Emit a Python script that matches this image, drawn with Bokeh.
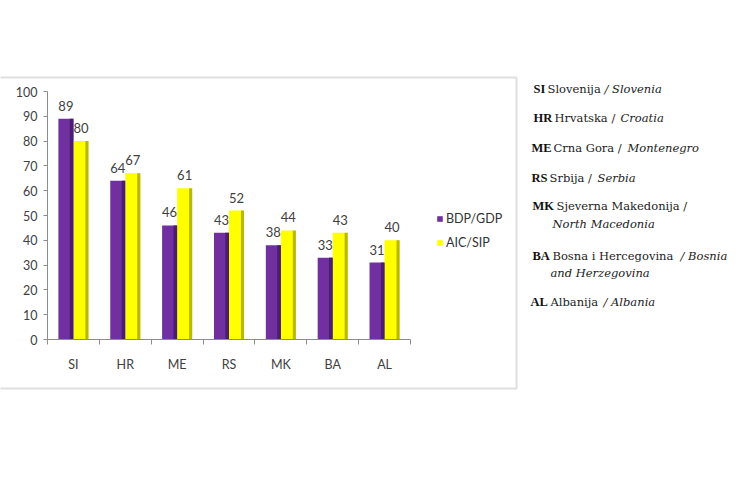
from bokeh.plotting import figure
from bokeh.models import (ColumnDataSource, Range1d, LabelSet, Label, BoxAnnotation,
                          Legend, LegendItem, FixedTicker)
from bokeh.core.properties import value
from bokeh.transform import dodge
from bokeh.embed import file_html
from bokeh.resources import INLINE

# ---- data ----
countries = ["SI", "HR", "ME", "RS", "MK", "BA", "AL"]
bdp_gdp = [89, 64, 46, 43, 38, 33, 31]
aic_sip = [80, 67, 61, 52, 44, 43, 40]
series_names = ["BDP/GDP", "AIC/SIP"]
y_ticks = [0, 10, 20, 30, 40, 50, 60, 70, 80, 90, 100]

key_lines = [
    [("SI", "bold"), ("Slovenija", "normal"), ("/ Slovenia", "italic")],
    [("HR", "bold"), ("Hrvatska /", "normal"), ("Croatia", "italic")],
    [("ME", "bold"), ("Crna Gora /", "normal"), ("Montenegro", "italic")],
    [("RS", "bold"), ("Srbija /", "normal"), ("Serbia", "italic")],
    [("MK", "bold"), ("Sjeverna Makedonija /", "normal")],
    [("North Macedonia", "italic")],
    [("BA", "bold"), ("Bosna i Hercegovina", "normal"), ("/ Bosnia", "italic")],
    [("and Herzegovina", "italic")],
    [("AL", "bold"), ("Albanija", "normal"), ("/ Albania", "italic")],
]
# key layout (page pixel positions)
key_y = [88, 117, 147, 177, 205, 223, 255, 272, 301]
key_x = [
    [533, 547, 604],
    [533, 554, 620],
    [531, 553, 627],
    [531, 549, 597],
    [532, 556],
    [552],
    [532, 552, 680],
    [550],
    [530, 550, 603],
]

W, H = 750, 500
FL, FR, FT, FB = 47, 410, 91, 339      # plot area of the chart (page px)
n = len(countries)
ux = (FR - FL) / n                       # px per category
uy = (FB - FT) / 100.0                   # px per value unit

xs = [i + 0.5 for i in range(n)]
src = ColumnDataSource(dict(x=xs, bdp=bdp_gdp, aic=aic_sip,
                            bdp_t=[str(v) for v in bdp_gdp],
                            aic_t=[str(v) for v in aic_sip]))

p = figure(x_range=Range1d(-FL / ux, (W - FL) / ux),
           y_range=Range1d(-(H - FB) / uy, 100 + FT / uy),
           width=W, height=H, output_backend="svg", toolbar_location=None,
           min_border=0)

bw = 0.29
purple, purple_d = "#7030A0", "#4a1c72"
yellow, yellow_d = "#FFFF00", "#a8a800"
r1 = p.vbar(x=dodge("x", -bw / 2), top="bdp", width=bw, source=src,
            fill_color=purple, line_color=None)
r2 = p.vbar(x=dodge("x", bw / 2), top="aic", width=bw, source=src,
            fill_color=yellow, line_color=None)
# darker right edges (shading)
p.vbar(x=dodge("x", -0.035), top="bdp", width=0.07, source=src,
       fill_color=purple_d, line_color=None)
p.vbar(x=dodge("x", bw - 0.03), top="aic", width=0.06, source=src,
       fill_color=yellow_d, line_color=None, fill_alpha=0.8)

for fld, off in (("bdp", -bw / 2), ("aic", bw / 2)):
    p.add_layout(LabelSet(x=dodge("x", off), y=fld, text=fld + "_t", source=src,
                          text_align="center", text_baseline="bottom", y_offset=8,
                          text_font=value("Lato"), text_font_size="13px",
                          text_color="#404040"))

p.xgrid.grid_line_color = None
p.ygrid.grid_line_color = None
p.outline_line_color = None

p.xaxis.fixed_location = 0
p.yaxis.fixed_location = 0
p.xaxis.bounds = (0, n)
p.yaxis.bounds = (0, 100)
p.xaxis.ticker = FixedTicker(ticks=xs, minor_ticks=list(range(n + 1)))
p.xaxis.major_label_overrides = {x: c for x, c in zip(xs, countries)}
p.yaxis.ticker = FixedTicker(ticks=y_ticks)
for ax in (p.xaxis[0], p.yaxis[0]):
    ax.axis_line_color = "#8c8c8c"
    ax.major_tick_line_color = "#8c8c8c"
    ax.minor_tick_line_color = None
    ax.major_label_text_font = "Lato"
    ax.major_label_text_font_size = "12.5px"
    ax.major_label_text_color = "#404040"
p.yaxis.major_tick_out = 4
p.yaxis.major_tick_in = 0
p.yaxis.major_label_standoff = 6
p.xaxis.major_tick_line_color = None
p.xaxis.major_tick_out = 0
p.xaxis.major_tick_in = 0
p.xaxis.minor_tick_line_color = "#8c8c8c"
p.xaxis.minor_tick_out = 5
p.xaxis.minor_tick_in = 0
p.xaxis.major_label_standoff = 12

legend = Legend(items=[LegendItem(label=series_names[0], renderers=[r1]),
                       LegendItem(label=series_names[1], renderers=[r2])],
                location=(436, H - 252), padding=0, margin=0, spacing=4,
                glyph_width=7, glyph_height=7, label_height=20, label_standoff=3,
                label_text_font="Lato", label_text_font_size="12.5px",
                label_text_color="#333333", border_line_color=None,
                background_fill_alpha=0)
p.add_layout(legend, "center")

# grey frame around the chart
p.add_layout(BoxAnnotation(left=-20, right=516, top=H - 77, bottom=H - 388,
                           left_units="screen", right_units="screen",
                           top_units="screen", bottom_units="screen",
                           fill_alpha=0, line_color="#959595", line_width=2))

# key text
for segs, xs_, y in zip(key_lines, key_x, key_y):
    for (txt, style), x in zip(segs, xs_):
        bold = style == "bold"
        p.add_layout(Label(x=x, y=H - y, x_units="screen", y_units="screen", text=txt,
                           text_font="Liberation Serif" if bold else "DejaVu Serif",
                           text_font_size="12.5px" if bold else "11.5px",
                           text_font_style=style, text_baseline="middle",
                           text_color="#111111" if bold else "#222222"))

open("out.html", "w").write(file_html(p, INLINE))
